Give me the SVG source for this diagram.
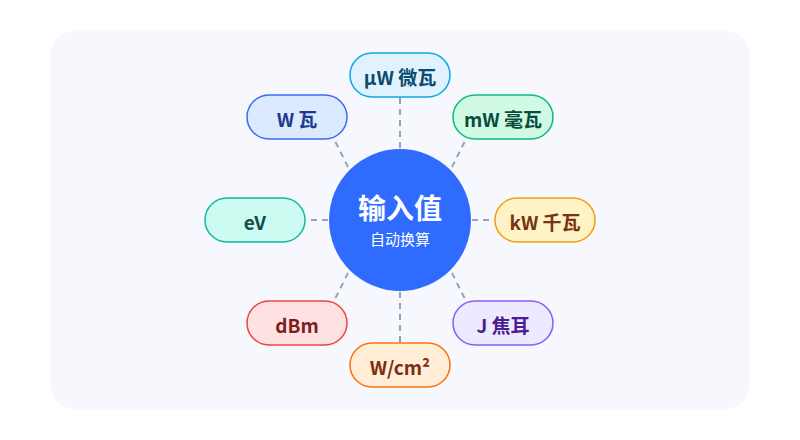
<svg xmlns="http://www.w3.org/2000/svg" width="800" height="440" viewBox="0 0 800 440">
<style>
text{font-family:"Noto Sans CJK SC","Noto Sans",sans-serif;text-anchor:middle;dominant-baseline:central}
.p{stroke-width:1.5}
.l{font-size:19px;font-weight:700}
.c line{stroke:#94a3b8;stroke-width:2;stroke-dasharray:6 5}
</style>
<rect x="50" y="30" width="700" height="380" rx="26" fill="#f7f8fd"/>
<g class="c">
<line x1="400" y1="148" x2="400" y2="98"/>
<line x1="452" y1="167" x2="468" y2="135"/>
<line x1="348" y1="167" x2="332" y2="135"/>
<line x1="472" y1="220" x2="494" y2="220"/>
<line x1="328" y1="220" x2="306" y2="220"/>
<line x1="452" y1="273" x2="468" y2="305"/>
<line x1="348" y1="273" x2="332" y2="305"/>
<line x1="400" y1="292" x2="400" y2="342"/>
</g>
<g id="center"><circle cx="400" cy="220" r="71" fill="#2f6bff"/>
<text x="400" y="207" font-size="28" font-weight="700" fill="#fff">输入值</text>
<text x="400" y="238" font-size="15" fill="#fff">自动换算</text></g>
<g id="uw"><rect class="p" x="350" y="53" width="100" height="44" rx="22" fill="#e0f2fe" stroke="#0ea5e9"/><text class="l" x="400" y="76" fill="#0c4a6e">µW 微瓦</text></g>
<g id="mw"><rect class="p" x="453" y="95" width="100" height="44" rx="22" fill="#d1fae5" stroke="#10b981"/><text class="l" x="503" y="118" fill="#064e3b">mW 毫瓦</text></g>
<g id="kw"><rect class="p" x="495" y="198" width="100" height="44" rx="22" fill="#fef3c7" stroke="#f59e0b"/><text class="l" x="545" y="221" fill="#78350f">kW 千瓦</text></g>
<g id="j"><rect class="p" x="453" y="301" width="100" height="44" rx="22" fill="#ede9fe" stroke="#8b5cf6"/><text class="l" x="503" y="324" fill="#4c1d95">J 焦耳</text></g>
<g id="wcm"><rect class="p" x="350" y="343" width="100" height="44" rx="22" fill="#ffedd5" stroke="#f97316"/><text class="l" x="400" y="366" fill="#7c2d12">W/cm²</text></g>
<g id="dbm"><rect class="p" x="247" y="301" width="100" height="44" rx="22" fill="#fee2e2" stroke="#ef4444"/><text class="l" x="297" y="324" fill="#7f1d1d">dBm</text></g>
<g id="ev"><rect class="p" x="205" y="198" width="100" height="44" rx="22" fill="#ccfbf1" stroke="#14b8a6"/><text class="l" x="255" y="221" fill="#134e4a">eV</text></g>
<g id="w"><rect class="p" x="247" y="95" width="100" height="44" rx="22" fill="#dbeafe" stroke="#3b6cf6"/><text class="l" x="297" y="118" fill="#1e3a8a">W 瓦</text></g>
</svg>
